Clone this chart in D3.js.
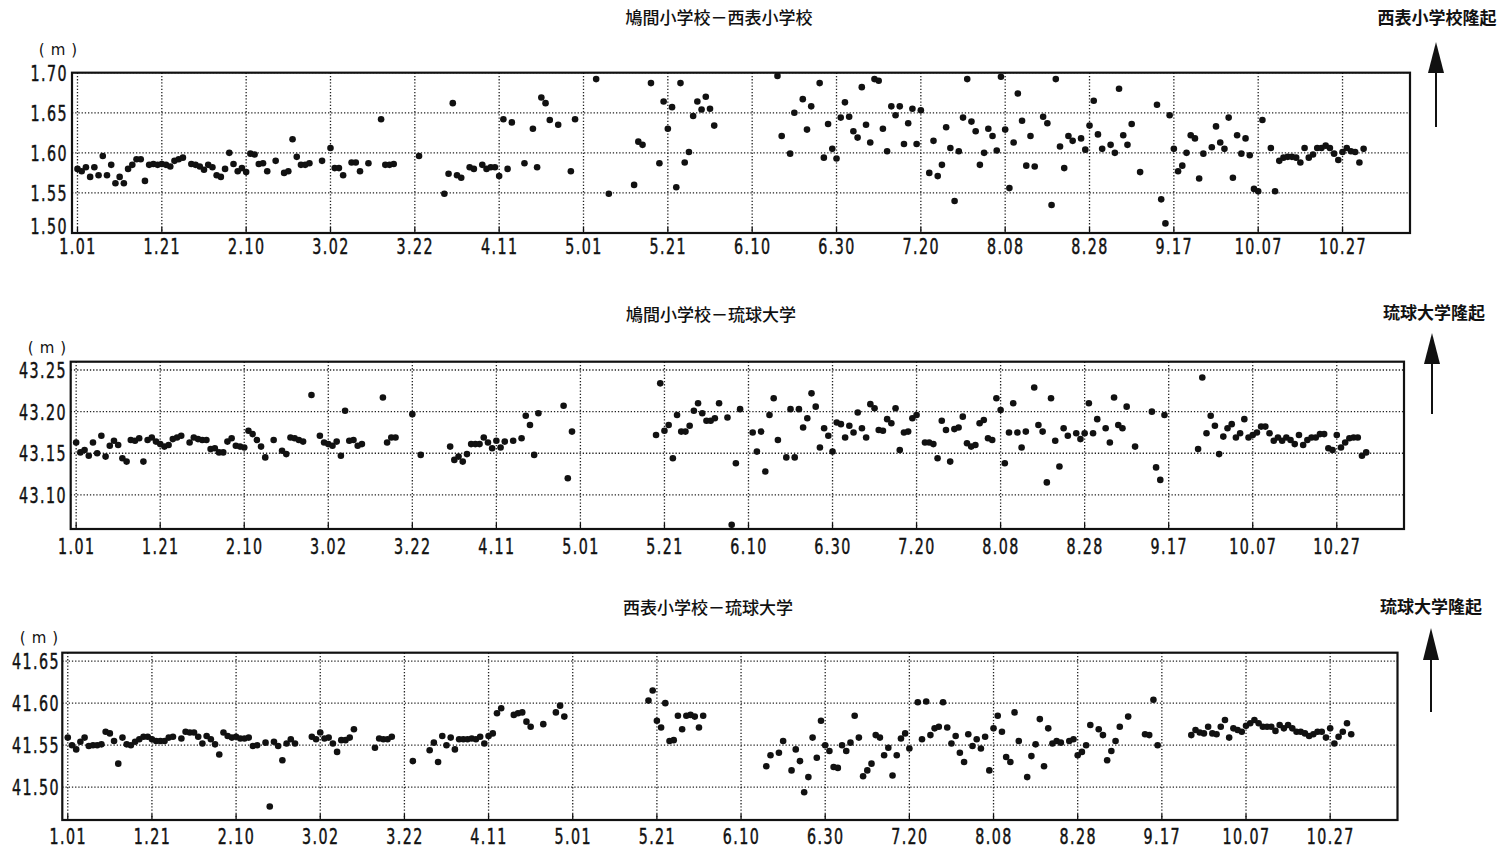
<!DOCTYPE html>
<html><head><meta charset="utf-8">
<script src="https://cdn.jsdelivr.net/npm/d3@7"></script>
<style>
body{margin:0;background:#fff;}
svg{display:block;}
.lab{font-family:"DejaVu Sans Condensed","DejaVu Sans",sans-serif;font-size:22px;fill:#111;stroke:#111;stroke-width:0.45px;}
.cjk{font-family:"Noto Sans CJK JP","Noto Sans CJK SC",sans-serif;fill:#111;}
.unit{font-family:"DejaVu Sans",sans-serif;fill:#111;}
</style></head><body>
<svg id="chart" width="1504" height="852"></svg>
<script>
// ---------- data ----------
const tickDays = [0,20,40,60,80,100,120,140,160,180,200,220,240,260,280,300];
const tickLabels = ["1.01","1.21","2.10","3.02","3.22","4.11","5.01","5.21","6.10","6.30","7.20","8.08","8.28","9.17","10.07","10.27"];

const titles = ["鳩間小学校－西表小学校","鳩間小学校－琉球大学","西表小学校－琉球大学"];
const sideLabels = ["西表小学校隆起","琉球大学隆起","琉球大学隆起"];
const unitLabel = "(m)";

const p1YTicks = [1.50,1.55,1.60,1.65,1.70];
const p2YTicks = [43.10,43.15,43.20,43.25];
const p3YTicks = [41.50,41.55,41.60,41.65];

// [day index from 1.01, value in m]
const p1Points = [
[0,1.580],[1,1.577],[2,1.582],[3,1.570],[4,1.582],[5,1.572],[6,1.596],[7,1.572],[8,1.585],[9,1.562],
[10,1.570],[11,1.562],[12,1.580],[13,1.585],[14,1.592],[15,1.592],[16,1.565],[17,1.585],[18,1.586],[19,1.585],
[20,1.586],[21,1.585],[22,1.583],[23,1.590],[24,1.592],[25,1.594],[27,1.586],[28,1.585],[29,1.583],[30,1.579],
[31,1.585],[32,1.582],[33,1.572],[34,1.570],[35,1.580],[36,1.600],[37,1.586],[38,1.577],[39,1.581],[40,1.576],
[41,1.599],[42,1.598],[43,1.586],[44,1.587],[45,1.577],[47,1.590],[49,1.575],[50,1.577],[51,1.617],[52,1.595],
[53,1.585],[54,1.585],[55,1.587],[58,1.590],[60,1.606],[61,1.581],[62,1.581],[63,1.572],[65,1.588],[66,1.588],
[67,1.577],[69,1.587],[72,1.642],[73,1.585],[74,1.585],[75,1.586],[81,1.596],[87,1.549],[88,1.574],[89,1.662],
[90,1.572],[91,1.569],[93,1.582],[94,1.580],[96,1.585],[97,1.580],[98,1.582],[99,1.582],[100,1.571],[101,1.642],
[102,1.580],[103,1.638],[106,1.587],[108,1.630],[109,1.582],[110,1.669],[111,1.662],[112,1.641],[114,1.635],[117,1.577],
[118,1.642],[123,1.692],[126,1.549],[132,1.560],[133,1.614],[134,1.610],[136,1.687],[138,1.587],[139,1.664],[140,1.630],
[141,1.657],[142,1.557],[143,1.687],[144,1.588],[145,1.601],[146,1.646],[147,1.664],[148,1.654],[149,1.670],[150,1.655],
[151,1.634],[166,1.696],[167,1.621],[169,1.599],[170,1.650],[172,1.667],[173,1.629],[174,1.658],[176,1.687],[177,1.594],
[178,1.636],[179,1.605],[180,1.593],[181,1.644],[182,1.663],[183,1.645],[184,1.627],[185,1.619],[186,1.682],[187,1.635],
[188,1.613],[189,1.692],[190,1.690],[191,1.630],[192,1.602],[193,1.658],[194,1.647],[195,1.658],[196,1.611],[197,1.637],
[198,1.655],[199,1.611],[200,1.653],[202,1.575],[203,1.615],[204,1.571],[205,1.585],[206,1.632],[207,1.606],[208,1.540],
[209,1.602],[210,1.644],[211,1.692],[212,1.639],[213,1.627],[214,1.585],[215,1.600],[216,1.630],[217,1.621],[218,1.603],
[219,1.695],[220,1.629],[221,1.556],[222,1.613],[223,1.674],[224,1.640],[225,1.584],[226,1.621],[227,1.583],[229,1.645],
[230,1.637],[231,1.535],[232,1.692],[233,1.608],[234,1.581],[235,1.621],[236,1.615],[238,1.618],[239,1.604],[240,1.634],
[241,1.665],[242,1.623],[243,1.605],[245,1.610],[246,1.600],[247,1.680],[248,1.622],[249,1.610],[250,1.636],[252,1.576],
[256,1.660],[257,1.542],[258,1.512],[259,1.647],[260,1.605],[261,1.577],[262,1.584],[263,1.600],[264,1.622],[265,1.618],
[266,1.568],[267,1.599],[269,1.607],[270,1.633],[271,1.613],[272,1.605],[273,1.644],[274,1.569],[275,1.622],[276,1.599],
[277,1.618],[278,1.597],[279,1.555],[280,1.552],[281,1.641],[283,1.606],[284,1.552],[285,1.590],[286,1.594],[287,1.595],
[288,1.595],[289,1.594],[290,1.588],[291,1.606],[292,1.594],[293,1.598],[294,1.606],[295,1.606],[296,1.609],[297,1.606],
[298,1.599],[299,1.591],[300,1.601],[301,1.606],[302,1.602],[303,1.601],[304,1.588],[305,1.605]
];

const p2Points = [
[0,43.163],[1,43.151],[2,43.154],[3,43.147],[4,43.163],[5,43.150],[6,43.171],[7,43.146],[8,43.159],[9,43.165],
[10,43.160],[11,43.144],[12,43.140],[13,43.166],[14,43.165],[15,43.168],[16,43.140],[17,43.166],[18,43.169],[19,43.164],
[20,43.161],[21,43.158],[22,43.160],[23,43.167],[24,43.169],[25,43.171],[27,43.163],[28,43.169],[29,43.167],[30,43.166],
[31,43.166],[32,43.155],[33,43.156],[34,43.151],[35,43.151],[36,43.164],[37,43.168],[38,43.159],[39,43.158],[40,43.157],
[41,43.177],[42,43.173],[43,43.166],[44,43.158],[45,43.145],[47,43.166],[49,43.153],[50,43.149],[51,43.169],[52,43.168],
[53,43.166],[54,43.164],[56,43.220],[58,43.171],[59,43.163],[60,43.161],[61,43.159],[62,43.164],[63,43.147],[64,43.201],
[65,43.165],[66,43.166],[67,43.159],[68,43.161],[73,43.217],[74,43.163],[75,43.169],[76,43.169],[80,43.197],[82,43.148],
[89,43.158],[90,43.142],[91,43.146],[92,43.140],[93,43.149],[94,43.161],[95,43.161],[96,43.161],[97,43.169],[98,43.163],
[99,43.156],[100,43.165],[101,43.157],[102,43.164],[104,43.165],[106,43.168],[107,43.195],[108,43.184],[109,43.148],[110,43.198],
[116,43.207],[117,43.120],[118,43.176],[138,43.172],[139,43.234],[140,43.177],[141,43.184],[142,43.144],[143,43.196],[144,43.176],
[145,43.176],[146,43.183],[147,43.201],[148,43.210],[149,43.198],[150,43.189],[151,43.189],[152,43.192],[153,43.210],[155,43.193],
[156,43.064],[157,43.138],[158,43.203],[161,43.175],[162,43.152],[163,43.176],[164,43.128],[165,43.196],[166,43.216],[167,43.166],
[169,43.145],[170,43.203],[171,43.145],[172,43.203],[173,43.181],[174,43.192],[175,43.222],[176,43.206],[177,43.157],[178,43.180],
[179,43.171],[180,43.152],[181,43.187],[182,43.185],[183,43.169],[184,43.183],[185,43.175],[186,43.199],[187,43.180],[188,43.169],
[189,43.209],[190,43.204],[191,43.178],[192,43.177],[193,43.191],[194,43.186],[195,43.204],[196,43.154],[197,43.175],[198,43.176],
[199,43.192],[200,43.196],[202,43.163],[203,43.163],[204,43.161],[205,43.144],[206,43.189],[207,43.178],[208,43.140],[209,43.179],
[210,43.181],[211,43.194],[212,43.162],[213,43.158],[214,43.160],[215,43.186],[216,43.190],[217,43.168],[218,43.166],[219,43.216],
[220,43.202],[221,43.138],[222,43.175],[223,43.210],[224,43.175],[225,43.157],[226,43.176],[228,43.229],[229,43.184],[230,43.176],
[231,43.115],[232,43.216],[233,43.165],[234,43.134],[235,43.180],[236,43.171],[238,43.174],[239,43.167],[240,43.174],[241,43.210],
[242,43.174],[243,43.191],[245,43.180],[246,43.163],[247,43.217],[248,43.184],[249,43.180],[250,43.206],[252,43.158],[256,43.200],
[257,43.133],[258,43.118],[259,43.196],[267,43.155],[268,43.241],[269,43.174],[270,43.195],[271,43.183],[272,43.149],[273,43.170],
[274,43.180],[275,43.185],[276,43.169],[277,43.174],[278,43.191],[279,43.169],[280,43.172],[281,43.175],[282,43.182],[283,43.182],
[284,43.174],[285,43.165],[286,43.169],[287,43.165],[288,43.169],[289,43.166],[290,43.161],[291,43.172],[292,43.160],[293,43.166],
[294,43.169],[295,43.169],[296,43.173],[297,43.173],[298,43.156],[299,43.154],[300,43.172],[301,43.157],[302,43.163],[303,43.168],
[304,43.169],[305,43.169],[306,43.147],[307,43.151]
];

const p3Points = [
[0,41.559],[1,41.550],[2,41.545],[3,41.554],[4,41.559],[5,41.549],[6,41.550],[7,41.550],[8,41.551],[9,41.566],
[10,41.564],[11,41.555],[12,41.528],[13,41.559],[14,41.551],[15,41.550],[16,41.554],[17,41.557],[18,41.560],[19,41.560],
[20,41.557],[21,41.555],[22,41.555],[23,41.555],[24,41.559],[25,41.560],[27,41.558],[28,41.566],[29,41.565],[30,41.565],
[31,41.560],[32,41.552],[33,41.561],[34,41.557],[35,41.551],[36,41.539],[37,41.565],[38,41.561],[39,41.559],[40,41.560],
[41,41.558],[42,41.558],[43,41.559],[44,41.549],[45,41.550],[47,41.553],[48,41.477],[49,41.554],[50,41.549],[51,41.532],
[52,41.552],[53,41.557],[54,41.552],[58,41.560],[59,41.557],[60,41.565],[61,41.558],[62,41.559],[63,41.552],[64,41.542],
[65,41.556],[66,41.556],[67,41.559],[68,41.569],[73,41.547],[74,41.558],[75,41.557],[76,41.557],[77,41.560],[82,41.531],
[86,41.544],[87,41.553],[88,41.530],[89,41.561],[90,41.550],[91,41.559],[92,41.545],[93,41.557],[94,41.557],[95,41.557],
[96,41.558],[97,41.557],[98,41.560],[99,41.552],[100,41.561],[101,41.564],[102,41.588],[103,41.594],[106,41.586],[107,41.588],
[108,41.589],[109,41.578],[110,41.572],[113,41.575],[116,41.589],[117,41.597],[118,41.584],[138,41.603],[139,41.615],[140,41.579],
[141,41.571],[142,41.600],[143,41.555],[144,41.556],[145,41.585],[146,41.569],[147,41.585],[148,41.586],[149,41.584],[150,41.571],
[151,41.585],[166,41.525],[167,41.538],[169,41.541],[170,41.555],[172,41.520],[173,41.545],[174,41.531],[175,41.494],[176,41.512],
[177,41.559],[178,41.535],[179,41.579],[180,41.550],[181,41.543],[182,41.524],[183,41.523],[184,41.550],[185,41.543],[186,41.553],
[187,41.585],[188,41.559],[189,41.513],[190,41.520],[191,41.528],[192,41.562],[193,41.559],[194,41.538],[195,41.547],[196,41.514],
[197,41.538],[198,41.558],[199,41.564],[200,41.546],[202,41.601],[203,41.557],[204,41.602],[205,41.562],[206,41.570],[207,41.572],
[208,41.601],[209,41.571],[210,41.552],[211,41.561],[212,41.541],[213,41.530],[214,41.563],[215,41.549],[216,41.557],[217,41.546],
[218,41.560],[219,41.520],[220,41.570],[221,41.585],[222,41.566],[223,41.536],[224,41.530],[225,41.589],[226,41.555],[228,41.512],
[229,41.537],[230,41.551],[231,41.581],[232,41.525],[233,41.570],[234,41.552],[235,41.555],[236,41.553],[238,41.555],[239,41.557],
[240,41.538],[241,41.542],[242,41.550],[243,41.574],[245,41.569],[246,41.562],[247,41.532],[248,41.543],[249,41.555],[250,41.572],
[252,41.584],[256,41.563],[257,41.562],[258,41.604],[259,41.550],[267,41.562],[268,41.568],[269,41.565],[270,41.564],[271,41.572],
[272,41.564],[273,41.563],[274,41.572],[275,41.580],[276,41.559],[277,41.570],[278,41.568],[279,41.566],[280,41.573],[281,41.576],
[282,41.580],[283,41.576],[284,41.572],[285,41.572],[286,41.572],[287,41.567],[288,41.574],[289,41.570],[290,41.574],[291,41.570],
[292,41.566],[293,41.566],[294,41.564],[295,41.561],[296,41.563],[297,41.566],[298,41.566],[299,41.559],[300,41.570],[301,41.552],
[302,41.560],[303,41.566],[304,41.576],[305,41.563]
];

// ---------- layout ----------
const xDomain = [-1.3, 316];
const panels = [
  {pts:p1Points, yTicks:p1YTicks, yDomain:[1.50,1.70], fmt:".2f",
   fx:[72,1410], fy:[72.7,233], titleX:719, titleY:18, sideX:1437, sideY:18,
   arX:1436, arTop:42, arBase:73, arBot:127, unitX:58, unitY:50, xLabY:246, yLabX:68, raiseBottom:7},
  {pts:p2Points, yTicks:p2YTicks, yDomain:[43.059,43.260], fmt:".2f",
   fx:[70.7,1404], fy:[361.7,529], titleX:711, titleY:315, sideX:1434, sideY:313,
   arX:1432, arTop:333, arBase:364, arBot:414, unitX:47, unitY:348, xLabY:546, yLabX:67, raiseBottom:0},
  {pts:p3Points, yTicks:p3YTicks, yDomain:[41.461,41.660], fmt:".2f",
   fx:[62.3,1397.5], fy:[652.7,820], titleX:708, titleY:608, sideX:1431, sideY:607,
   arX:1431, arTop:628, arBase:660, arBot:712, unitX:39, unitY:638, xLabY:836, yLabX:60, raiseBottom:0}
];

const svg = d3.select("#chart");
const SX = 0.72;

panels.forEach((p, i) => {
  const x = d3.scaleLinear().domain(xDomain).range(p.fx);
  const y = d3.scaleLinear().domain(p.yDomain).range([p.fy[1], p.fy[0]]);
  const g = svg.append("g");

  // grid
  g.selectAll(".vg").data(tickDays).enter().append("line")
    .attr("x1", d => x(d)).attr("x2", d => x(d))
    .attr("y1", p.fy[0]).attr("y2", p.fy[1])
    .attr("stroke", "#222").attr("stroke-width", 1.3).attr("stroke-dasharray", "1.3 1.9");
  g.selectAll(".vt").data(tickDays).enter().append("line")
    .attr("x1", d => x(d)).attr("x2", d => x(d))
    .attr("y1", p.fy[1] - 6).attr("y2", p.fy[1])
    .attr("stroke", "#111").attr("stroke-width", 1.3);
  g.selectAll(".hg").data(p.yTicks).enter().append("line")
    .attr("x1", p.fx[0]).attr("x2", p.fx[1])
    .attr("y1", d => y(d)).attr("y2", d => y(d))
    .attr("stroke", "#222").attr("stroke-width", 1.3).attr("stroke-dasharray", "1.3 1.9");

  // frame
  g.append("rect").attr("x", p.fx[0]).attr("y", p.fy[0])
    .attr("width", p.fx[1] - p.fx[0]).attr("height", p.fy[1] - p.fy[0])
    .attr("fill", "none").attr("stroke", "#111").attr("stroke-width", 2.2);

  // x axis labels
  const xa = d3.axisBottom(x).tickValues(tickDays)
    .tickFormat((d, k) => tickLabels[k]).tickSize(0).tickPadding(0);
  const xg = g.append("g").attr("transform", `translate(0,${p.xLabY})`).call(xa);
  xg.select(".domain").remove();
  xg.selectAll("text").attr("class", "lab").attr("dy", "0.35em").attr("y", 0)
    .style("letter-spacing", "2px").attr("transform", `scale(${SX},1)`);

  // y axis labels
  const ya = d3.axisLeft(y).tickValues(p.yTicks).tickFormat(d3.format(p.fmt)).tickSize(0).tickPadding(0);
  const yg = g.append("g").attr("transform", `translate(${p.yLabX},0)`).call(ya);
  yg.select(".domain").remove();
  yg.selectAll("text").attr("class", "lab").attr("x", 0).attr("dy", "0.35em")
    .style("letter-spacing", "2px").attr("transform", `scale(${SX},1)`)
    .attr("y", d => d === p.yTicks[0] && p.raiseBottom ? -p.raiseBottom : 0);

  // points
  g.selectAll(".pt").data(p.pts).enter().append("circle")
    .attr("cx", d => x(d[0])).attr("cy", d => y(d[1])).attr("r", 3.3).attr("fill", "#111");

  // unit
  svg.append("text").attr("class", "unit").attr("x", p.unitX + 3).attr("y", p.unitY)
    .attr("text-anchor", "middle").attr("dy", "0.35em").style("font-size", "15px")
    .style("letter-spacing", "6px").text(unitLabel);

  // title
  svg.append("text").attr("class", "cjk").attr("x", p.titleX).attr("y", p.titleY)
    .attr("text-anchor", "middle").attr("dy", "0.35em").style("font-size", "17px").style("font-weight", 500)
    .text(titles[i]);

  // side label and arrow
  svg.append("text").attr("class", "cjk").attr("x", p.sideX).attr("y", p.sideY)
    .attr("text-anchor", "middle").attr("dy", "0.35em").style("font-size", "17px").style("font-weight", 700)
    .text(sideLabels[i]);
  svg.append("line").attr("x1", p.arX).attr("x2", p.arX).attr("y1", p.arBase - 2).attr("y2", p.arBot)
    .attr("stroke", "#111").attr("stroke-width", 2);
  svg.append("path")
    .attr("d", `M${p.arX},${p.arTop} L${p.arX - 8},${p.arBase} L${p.arX + 8},${p.arBase} Z`)
    .attr("fill", "#111");
});
</script>
</body></html>
